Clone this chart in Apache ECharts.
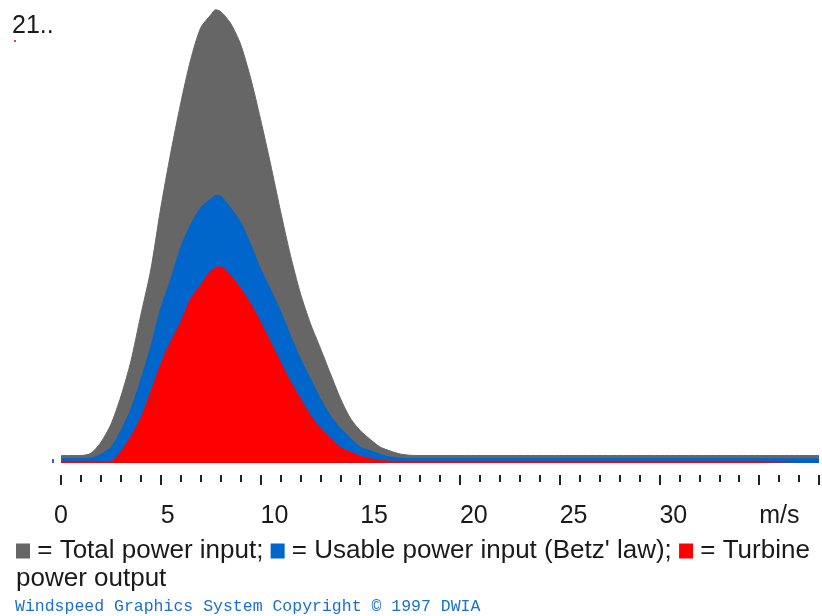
<!DOCTYPE html>
<html>
<head>
<meta charset="utf-8">
<script src="https://cdn.jsdelivr.net/npm/echarts@6/dist/echarts.min.js"></script>
<style>
html,body{margin:0;padding:0;background:#fff;}
#chart{width:822px;height:616px;}
</style>
</head>
<body>
<div id="chart"></div>
<script>
// wind speed (m/s)
var speeds = [0,0.5,1,1.5,2,2.5,3,3.5,4,4.5,5,5.5,6,6.5,7,7.5,7.75,8,8.5,9,9.5,10,10.5,11,11.5,12,12.5,13,13.5,14,14.5,15,15.5,16,16.5,17,17.5,18,20,25,30,35,38];
// Total power input
var totalPower = [0.35,0.35,0.35,0.45,0.96,1.79,3.09,4.72,6.88,8.98,11.86,14.42,16.73,18.76,20.24,20.84,21.09,21.01,20.46,19.49,17.93,16.01,13.93,11.74,9.67,7.9,6.5,5.35,4.17,3.02,2.09,1.51,1.1,0.74,0.56,0.42,0.36,0.35,0.35,0.35,0.35,0.35,0.35];
// Usable power input (Betz' law)
var usablePower = [0.2,0.2,0.2,0.23,0.4,0.73,1.49,2.5,3.87,5.41,7.2,8.53,10.02,11.09,11.87,12.28,12.45,12.42,11.87,11.21,10.19,9.04,8.08,7.07,5.93,4.86,3.93,3.0,2.21,1.62,1.16,0.74,0.57,0.4,0.28,0.23,0.2,0.2,0.2,0.2,0.2,0.2,0.2];
// Turbine power output
var turbinePower = [0.07,0.07,0.07,0.07,0.07,0.07,0.52,1.22,2.09,3.3,4.59,5.65,6.54,7.64,8.27,8.93,9.07,9.13,8.72,8.13,7.41,6.56,5.64,4.7,3.79,2.99,2.21,1.62,1.14,0.73,0.51,0.32,0.2,0.12,0.08,0.07,0.07,0.07,0.07,0.07,0.07,0.07,0.07];
// x tick labels (every 5 m/s)
var tickLabels = ['0','5','10','15','20','25','30','m/s'];
var seriesNames = ['Total power input','Usable power input (Betz\' law)','Turbine power output'];
var seriesColors = ['#666666','#0066cc','#ff0000'];
var topLabel = '21..';
var legendLine1 = '{g| } = Total power input; {b| } = Usable power input (Betz\' law); {r| } = Turbine';
var legendLine2 = 'power output';
var copyright = 'Windspeed Graphics System Copyright \u00a9 1997 DWIA';

function pairs(vals){ return speeds.map(function(s,i){ return [s, vals[i]]; }); }
var allVals = [totalPower, usablePower, turbinePower];

var chart = echarts.init(document.getElementById('chart'), null, {renderer:'canvas'});
var FONT = '"Liberation Sans", Arial, sans-serif';

function labelFor(v){
  var i = Math.round(v/5);
  if (Math.abs(v - i*5) > 1e-6 || i < 0 || i >= tickLabels.length) return '';
  return tickLabels[i];
}

var hiddenAxis = {axisLine:{show:false},axisTick:{show:false},axisLabel:{show:false},splitLine:{show:false}};

var option = {
  animation:false,
  backgroundColor:'#ffffff',
  grid:{left:61,right:0,top:9.5,bottom:153,containLabel:false},
  xAxis:[
    Object.assign({type:'value',min:0,max:38,gridIndex:0}, hiddenAxis),
    {type:'value',min:0,max:38,interval:1,position:'bottom',offset:12,
      axisLine:{show:false},splitLine:{show:false},axisLabel:{show:false},
      axisTick:{show:true,length:7,lineStyle:{color:'#222',width:2}}},
    {type:'value',min:0,max:38,interval:5,position:'bottom',offset:12,
      axisLine:{show:false},splitLine:{show:false},
      axisTick:{show:true,length:10,lineStyle:{color:'#222',width:2}},
      axisLabel:{show:true,interval:0,hideOverlap:false,margin:29,align:'left',
        fontFamily:FONT,fontSize:25,color:'#1a1a1a',
        formatter:function(v){ return v < 1 ? '' : labelFor(v); }}},
    {type:'value',min:0,max:38,interval:5,position:'bottom',offset:12,
      axisLine:{show:false},splitLine:{show:false},axisTick:{show:false},
      axisLabel:{show:true,interval:0,hideOverlap:false,margin:29,align:'center',
        fontFamily:FONT,fontSize:25,color:'#1a1a1a',
        formatter:function(v){ return v === 0 ? labelFor(v) : ''; }}}
  ],
  yAxis:[Object.assign({type:'value',min:0,max:21.1}, hiddenAxis)],
  series: allVals.map(function(vals, k){
    return {
      name:seriesNames[k], type:'line', xAxisIndex:0, yAxisIndex:0,
      data:pairs(vals), showSymbol:false, symbol:'none',
      smooth:0.25,
      lineStyle:{color:seriesColors[k],width:1},
      areaStyle:{color:seriesColors[k],opacity:1},
      z:2+k
    };
  }),
  graphic:[
    {type:'text',left:12,top:14,style:{text:topLabel,font:'25px '+FONT,fill:'#1a1a1a'}},
    {type:'rect',shape:{x:14,y:40,width:2,height:2},style:{fill:'#e04050'}},
    {type:'rect',shape:{x:52,y:459,width:2,height:4},style:{fill:'#3060d0'}},
    {type:'text',x:16,y:551,style:{
      text:legendLine1,font:'26px '+FONT,fill:'#1a1a1a',verticalAlign:'middle',
      rich:{
        g:{backgroundColor:seriesColors[0],width:14,height:15,fontSize:1},
        b:{backgroundColor:seriesColors[1],width:14,height:15,fontSize:1},
        r:{backgroundColor:seriesColors[2],width:14,height:15,fontSize:1}
      }}},
    {type:'text',x:16,y:579,style:{text:legendLine2,font:'26px '+FONT,fill:'#1a1a1a',verticalAlign:'middle'}},
    {type:'text',x:15,y:607,style:{text:copyright,font:'16.5px "Liberation Mono", monospace',fill:'#1a6fd6',verticalAlign:'middle'}}
  ]
};
chart.setOption(option);
</script>
</body>
</html>
